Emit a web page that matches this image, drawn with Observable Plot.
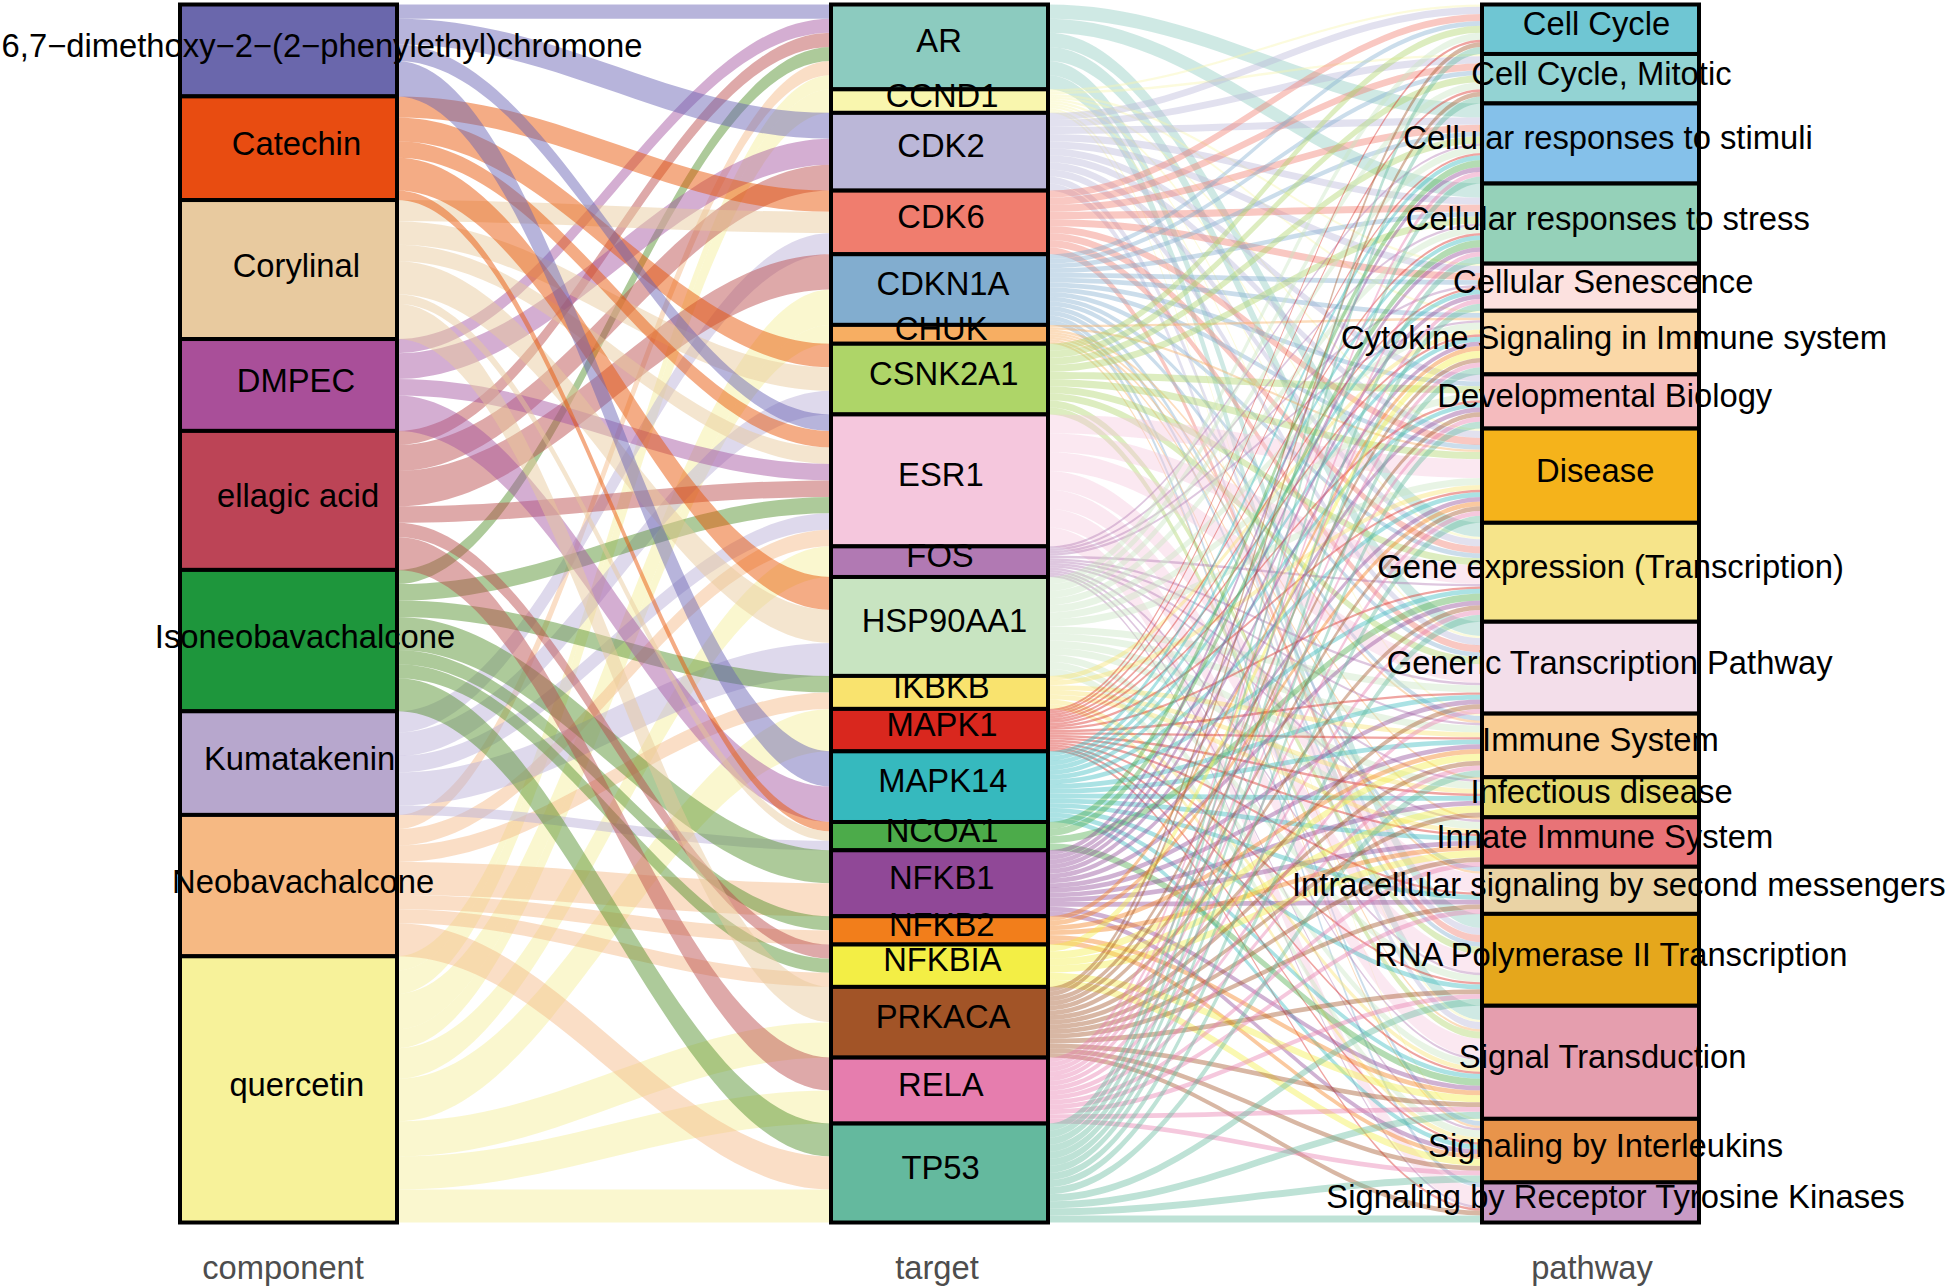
<!DOCTYPE html>
<html>
<head>
<meta charset="utf-8">
<style>html,body{margin:0;padding:0;background:#fff}svg{display:block}</style>
<script src="https://cdn.jsdelivr.net/npm/d3@7"></script>
<script src="https://cdn.jsdelivr.net/npm/@observablehq/plot@0.6"></script>
</head>
<body>
<div id="chart"></div>
<script>
const axisTitles = ["component", "target", "pathway"];

const components = ["6,7\u2212dimethoxy\u22122\u2212(2\u2212phenylethyl)chromone","Catechin","Corylinal","DMPEC","ellagic acid","Isoneobavachalcone","Kumatakenin","Neobavachalcone","quercetin"];
const componentColors = ["#6A67AC","#E84C11","#E8CA9F","#A94F99","#BC4456","#1E963C","#B7A7CD","#F6B983","#F7F29A"];
const componentFlowColors = ["#6963B3","#E85100","#E9C99B","#A555A1","#B94B4B","#53912C","#B9AFD7","#F5B987","#F5EF9B"];

const targets = ["AR","CCND1","CDK2","CDK6","CDKN1A","CHUK","CSNK2A1","ESR1","FOS","HSP90AA1","IKBKB","MAPK1","MAPK14","NCOA1","NFKB1","NFKB2","NFKBIA","PRKACA","RELA","TP53"];
const targetColors = ["#8CCBBF","#F9F6AE","#BBB7D8","#F07D6E","#82ADCF","#F7AE62","#AED568","#F5C7DD","#B179B3","#C8E4C1","#F9E36E","#D9271E","#36B9BE","#4CAB4A","#904897","#F27E1B","#F3EE45","#A25427","#E67DAE","#64B99E"];

const pathways = ["Cell Cycle","Cell Cycle, Mitotic","Cellular responses to stimuli","Cellular responses to stress","Cellular Senescence","Cytokine Signaling in Immune system","Developmental Biology","Disease","Gene expression (Transcription)","Generic Transcription Pathway","Immune System","Infectious disease","Innate Immune System","Intracellular signaling by second messengers","RNA Polymerase II Transcription","Signal Transduction","Signaling by Interleukins","Signaling by Receptor Tyrosine Kinases"];
const pathwayColors = ["#6FC6D3","#93D3D3","#85C1EA","#95D1B9","#FCE1DF","#FBD8A7","#F5BBBE","#F5B31B","#F6E48A","#F3DEEA","#F9CD93","#E4D870","#E87377","#EAD3A5","#E5A71C","#E59EAE","#E8944B","#C89AC5"];

// component indices feeding each target, aligned with `targets`
const targetComponents = [
  [0,3,4,5,7,8],[8],[0,3,4],[1,2,6],[4,8],[8],[1,2,6],[0,1,2,3,4,5,6,7],[8],[1,2,6],
  [5,7],[8],[0,3],[1,2,6],[5,7],[5,7],[4,5,7],[2,8],[4,8],[5,7,8]
];
// pathway indices reached by each target, aligned with `targets`
const targetPathways = [
  [2,3,8,9,14,15],
  [0,1,4,5,7,8,9,10,15,16],
  [0,1,2,3,4,6,7,8,9,14,15],
  [0,1,2,3,4,7,8,9,14],
  [0,1,2,3,4,5,6,7,8,9,10,13,14,16,17],
  [5,7,10,11,12,13,15,16],
  [0,1,2,3,6,7,8,9,14,15],
  [7,8,9,13,14,15,17],
  [2,3,4,5,8,9,10,11,12,14,15,16,17],
  [0,1,2,3,5,6,7,9,10,11,12,14,15,16],
  [5,7,10,11,12,15,16],
  [0,1,2,3,4,5,6,7,8,9,10,11,12,13,14,15,16,17],
  [2,3,4,5,6,7,8,9,10,11,12,13,14,15,16],
  [2,3,8,15],
  [2,3,4,5,6,7,8,9,10,11,12,13,15,16],
  [5,7,10,12,15,16],
  [5,10,11,12,15,16],
  [0,1,5,6,7,8,9,10,11,12,13,14,15,16,17],
  [2,3,4,5,6,7,8,9,10,12,13,14,15,16],
  [0,1,2,3,4,5,6,7,8,10,14,15,16,17]
];

const FONT = '"Liberation Sans", Arial, Helvetica, sans-serif';
const FONT_SIZE = 32.75;
const stratumWidth = 1 / 3;
const W = 1946, H = 1287;
const pxPerAxis = 651;                 // horizontal distance between two axes
const firstAxisPx = 288.5;
const xDomain = [1 - firstAxisPx / pxPerAxis, 1 + (W - firstAxisPx) / pxPerAxis];

// Flow shape: like a bump curve, with the control points nearer the ends
const KNOT = 0.37;
function flowCurve(context) {
  let line = NaN, point = 0, x0 = 0, y0 = 0;
  return {
    areaStart() { line = 0; },
    areaEnd() { line = NaN; },
    lineStart() { point = 0; },
    lineEnd() {
      if (line || (line !== 0 && point === 1)) context.closePath();
      line = 1 - line;
    },
    point(x, y) {
      x = +x; y = +y;
      if (point === 0) {
        point = 1;
        if (line) context.lineTo(x, y); else context.moveTo(x, y);
      } else {
        point = 2;
        const d = (x - x0) * KNOT;
        context.bezierCurveTo(x0 + d, y0, x - d, y, x, y);
      }
      x0 = x; y0 = y;
    }
  };
}

const ctx = document.createElement("canvas").getContext("2d");
ctx.font = `${FONT_SIZE}px "Liberation Sans"`;

const leftRows = [], rightRows = [], nodes = [];
const compSize = components.map(() => 0);
const pathSize = pathways.map(() => 0);
let total = 0;
targets.forEach((_, t) => {
  const c = targetComponents[t].length, p = targetPathways[t].length;
  targetComponents[t].forEach(i => compSize[i] += p);
  targetPathways[t].forEach(j => pathSize[j] += c);
  total += c * p;
});

function stack(sizes) {
  let y = 0;
  return sizes.map(s => { const r = {start: y, end: y + s}; y += s; return r; });
}
const compS = stack(compSize);
const targS = stack(targets.map((_, t) => targetComponents[t].length * targetPathways[t].length));
const pathS = stack(pathSize);

function addNodes(names, spans, colors, axis, shift) {
  const labels = [];
  names.forEach((n, i) => {
    nodes.push({x1: axis - stratumWidth / 2, x2: axis + stratumWidth / 2, y1: spans[i].start, y2: spans[i].end, color: colors[i]});
    // the source places its labels a little right of centre, growing with text length
    const w = ctx.measureText(n).width;
    labels.push({x: axis + shift * w / pxPerAxis, y: (spans[i].start + spans[i].end) / 2, text: n});
  });
  return labels;
}
const compLabels = addNodes(components, compS, componentColors, 1, 0.05);
const targLabels = addNodes(targets, targS, targetColors, 2, 0.045);
const pathLabels = addNodes(pathways, pathS, pathwayColors, 3, 0.044);

const compOff = compS.map(s => s.start);
const targInOff = targS.map(s => s.start);
const targOutOff = targS.map(s => s.start);
const pathOff = pathS.map(s => s.start);
let id = 0;
targets.forEach((_, t) => {
  const p = targetPathways[t].length;
  targetComponents[t].forEach(i => {
    const a = compOff[i], b = targInOff[t];
    leftRows.push({id, x: 1 + stratumWidth / 2, y1: a, y2: a + p, color: componentFlowColors[i]});
    leftRows.push({id, x: 2 - stratumWidth / 2, y1: b, y2: b + p, color: componentFlowColors[i]});
    compOff[i] += p; targInOff[t] += p; id++;
  });
});
targets.forEach((_, t) => {
  const c = targetComponents[t].length;
  targetPathways[t].forEach(j => {
    const a = targOutOff[t], b = pathOff[j];
    rightRows.push({id, x: 2 + stratumWidth / 2, y1: a, y2: a + c, color: targetColors[t]});
    rightRows.push({id, x: 3 - stratumWidth / 2, y1: b, y2: b + c, color: targetColors[t]});
    targOutOff[t] += c; pathOff[j] += c; id++;
  });
});

const labelMark = (data, dx, dy) =>
  Plot.text(data, {x: "x", y: "y", text: "text", fontSize: FONT_SIZE, fill: "#000", dx, dy, textAnchor: "middle"});

const axisMark = (axis, dx) =>
  Plot.text([axis], {x: d => d, y: () => total, text: d => axisTitles[d - 1], fontSize: 32.7, fill: "#4D4D4D", dy: 46, dx});

const flowMark = (rows, opacity) =>
  Plot.areaY(rows, {x: "x", y1: "y1", y2: "y2", z: "id", fill: "color", fillOpacity: opacity, curve: flowCurve});

const chart = Plot.plot({
  width: W,
  height: H,
  marginTop: 0, marginBottom: 0, marginLeft: 0, marginRight: 0,
  style: {fontFamily: FONT, background: "#fff"},
  x: {domain: xDomain, range: [0, W], axis: null},
  y: {domain: [0, total], range: [4.5, 1222.5], axis: null},
  marks: [
    flowMark(leftRows, 0.48),
    flowMark(rightRows, 0.42),
    Plot.rect(nodes, {x1: "x1", x2: "x2", y1: "y1", y2: "y2", fill: "color", stroke: "#000", strokeWidth: 4}),
    labelMark(compLabels, 1, -4),
    labelMark(targLabels, -3, -5.5),
    labelMark(pathLabels, -1, -5),
    axisMark(1, -6),
    axisMark(2, -3),
    axisMark(3, 1)
  ]
});
document.getElementById("chart").appendChild(chart);
</script>
</body>
</html>
